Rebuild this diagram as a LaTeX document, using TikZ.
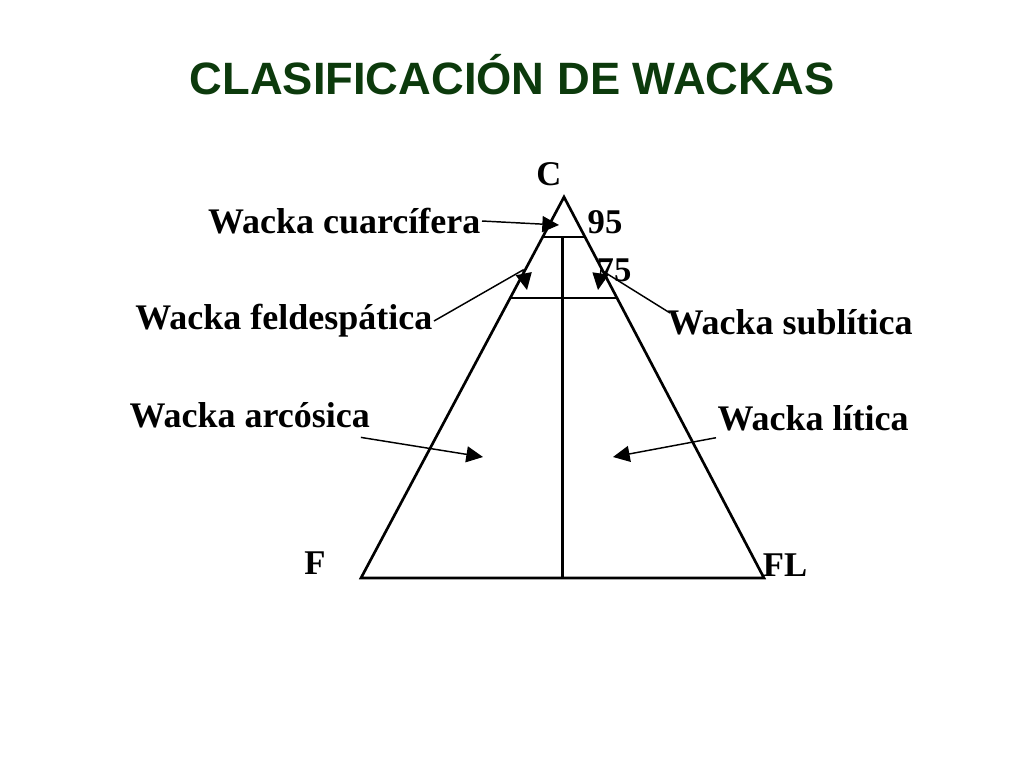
\documentclass[tikz,border=0pt]{standalone}
\usepackage{fontspec}
\setmainfont{Liberation Serif}
\newfontfamily\titlefont{Liberation Sans}
\usepackage{tikz}
\usetikzlibrary{arrows.meta, calc}
\definecolor{titlegreen}{RGB}{12,58,12}
\tikzstyle{titletext} = [font=\titlefont\bfseries\fontsize{34}{40}\selectfont, text=titlegreen]
\tikzstyle{vertex} = [font=\bfseries\fontsize{26}{30}\selectfont, inner sep=0pt]
\tikzstyle{rocktext} = [font=\bfseries\fontsize{27}{30}\selectfont, inner sep=1pt]
\tikzstyle{edge} = [line width=2pt]
\tikzstyle{arrow} = [line width=1.1pt, -{Triangle[length=12.5pt,width=12pt]}]

\begin{document}
\begin{tikzpicture}[x=0.75pt, y=-0.75pt]
    \useasboundingbox (0,0) rectangle (1024,768);
    \node (Title) [titletext] at (512,75) {CLASIFICACIÓN DE WACKAS};
    % triangle
    \coordinate (C) at (564,197);
    \coordinate (F) at (361,578);
    \coordinate (FL) at (764,578);
    \draw [edge, line join=miter] (C) -- (F) -- (FL) -- cycle;
    \coordinate (C95a) at ($(C)!0.105!(F)$);
    \coordinate (C95b) at ($(C)!0.105!(FL)$);
    \coordinate (C75a) at ($(C)!0.265!(F)$);
    \coordinate (C75b) at ($(C)!0.265!(FL)$);
    \coordinate (Mid) at ($(F)!0.5!(FL)$);
    \coordinate (Top) at (Mid |- C95a);
    \draw [edge] (C95a) -- (C95b);
    \draw [edge] (C75a) -- (C75b);
    \draw [edge] (Top) -- (Mid);
    \node (LabelC) [vertex] at (549,174) {C};
    \node (LabelF) [vertex] at (315,563) {F};
    \node (LabelFL) [vertex] at (785,565) {FL};
    \node (Val95) [vertex] at (605,222) {95};
    \node (Val75) [vertex] at (614,270) {75};
    % fields
    \node (Cuarcifera) [rocktext, anchor=east] at (482,221) {Wacka cuarcífera};
    \node (Feldespatica) [rocktext, anchor=east] at (434,321) {Wacka feldespática};
    \node (Sublitica) [rocktext, anchor=west] at (666,322) {Wacka sublítica};
    \node (Arcosica) [rocktext, anchor=west] at (128,415) {Wacka arcósica};
    \node (Litica) [rocktext, anchor=west] at (716,418) {Wacka lítica};
    \coordinate (TipCuar) at (559,225);
    \coordinate (BendFeld) at (523,270);
    \coordinate (TipFeld) at (527,290);
    \coordinate (BendSub) at (601,270);
    \coordinate (TipSub) at (598,290);
    \coordinate (TipArc) at (483,457);
    \coordinate (TipLit) at (613,457);
    \draw [arrow] (Cuarcifera.east) -- (TipCuar);
    \draw [arrow] (Feldespatica.east) -- (BendFeld) -- (TipFeld);
    \draw [arrow] ([xshift=3pt, yshift=-4pt]Sublitica.north west) -- (BendSub) -- (TipSub);
    \draw [arrow] ([yshift=-6pt, xshift=-8pt]Arcosica.south east) -- (TipArc);
    \draw [arrow] ([yshift=-4pt]Litica.south west) -- (TipLit);
\end{tikzpicture}
\end{document}
